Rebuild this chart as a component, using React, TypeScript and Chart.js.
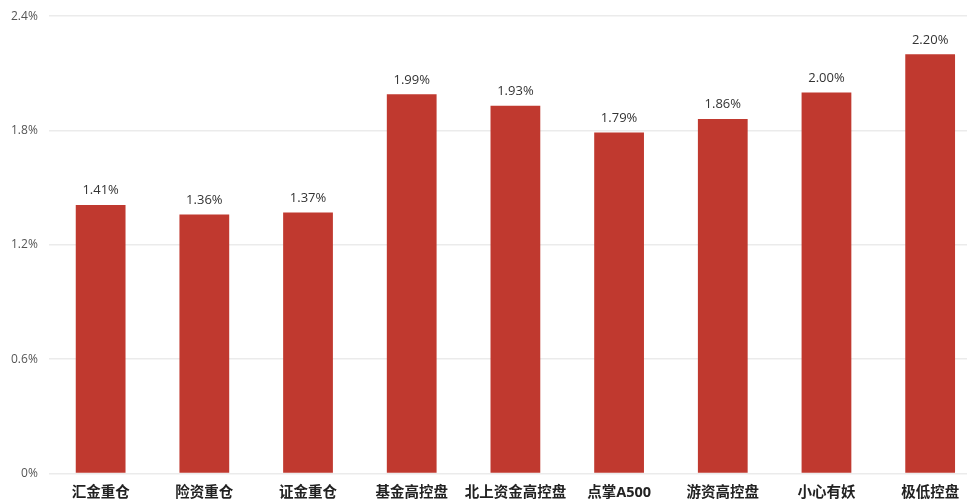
import React, { useEffect, useRef } from "react";
import Chart from "chart.js/auto";

const categories = ["汇金重仓", "险资重仓", "证金重仓", "基金高控盘", "北上资金高控盘", "点掌A500", "游资高控盘", "小心有妖", "极低控盘"];
const returns = [1.41, 1.36, 1.37, 1.99, 1.93, 1.79, 1.86, 2.0, 2.2];

const FONT = "'Open Sans', 'Noto Sans CJK SC', sans-serif";

const valueLabels = {
  id: "valueLabels",
  afterDatasetsDraw(chart: any) {
    const ctx = chart.ctx;
    const meta = chart.getDatasetMeta(0);
    ctx.save();
    ctx.font = `13px ${FONT}`;
    ctx.fillStyle = "#333333";
    ctx.textAlign = "center";
    ctx.textBaseline = "bottom";
    meta.data.forEach((bar: any, i: number) => {
      ctx.fillText(returns[i].toFixed(2) + "%", bar.x, bar.y - 8);
    });
    ctx.restore();
  },
};

const App = () => {
  const chartRef: any = useRef(null);
  const chartInstance: any = useRef(null);

  useEffect(() => {
    if (chartRef.current) {
      const ctx = chartRef.current.getContext("2d");
      chartInstance.current = new Chart(ctx, {
        type: "bar",
        data: {
          labels: categories,
          datasets: [
            {
              label: "收益",
              data: returns,
              backgroundColor: "#C0392F",
              borderWidth: 0,
              barPercentage: 0.48,
              categoryPercentage: 1,
            },
          ],
        },
        options: {
          responsive: true,
          maintainAspectRatio: false,
          animation: false,
          layout: { padding: { top: 0, right: 0, left: 0, bottom: -10 } },
          plugins: {
            legend: { display: false },
            tooltip: { enabled: false },
          },
          scales: {
            x: {
              grid: { display: false, drawTicks: false },
              border: { display: false },
              ticks: {
                padding: 11,
                maxRotation: 0,
                minRotation: 0,
                autoSkip: false,
                color: "#222222",
                font: { family: FONT, size: 14.5, weight: "bold" },
              },
            },
            y: {
              min: 0,
              max: 2.4,
              grid: { color: "#ebebeb", lineWidth: 1.5, drawTicks: false },
              border: { display: false },
              ticks: {
                stepSize: 0.6,
                padding: 11,
                color: "#555555",
                font: { family: FONT, size: 12 },
                callback: (v: any) => (v === 0 ? "0%" : Number(v).toFixed(1) + "%"),
              },
            },
          },
        },
        plugins: [valueLabels],
      });
    }
    return () => {
      if (chartInstance.current) {
        chartInstance.current.destroy();
      }
    };
  }, []);

  return (
    <div style={{ position: "fixed", left: 0, top: 0, width: 967, height: 503, overflow: "hidden", background: "#fff" }}>
      <div style={{ position: "absolute", left: 0, top: -2, width: 982, height: 505 }}>
        <canvas ref={chartRef}></canvas>
      </div>
    </div>
  );
};

export default App;
